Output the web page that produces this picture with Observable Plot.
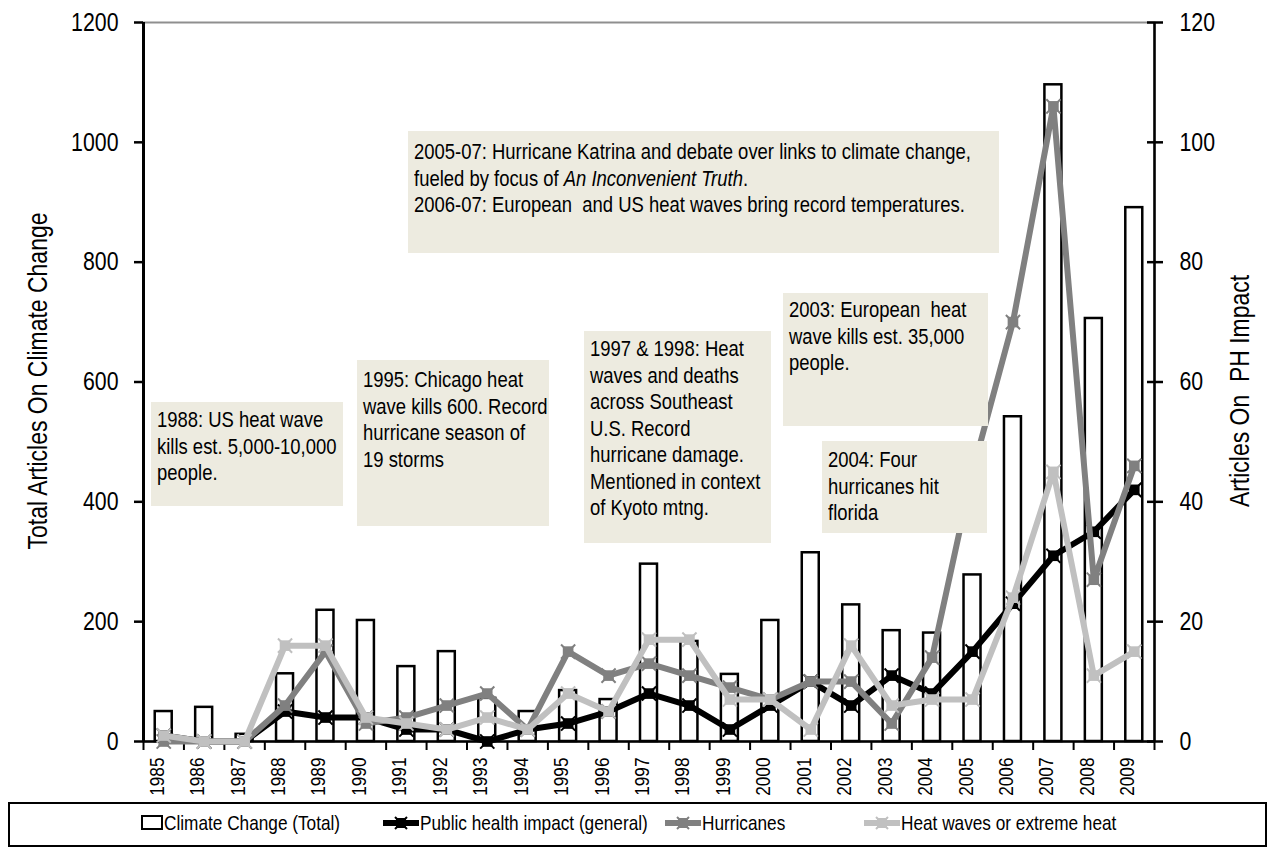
<!DOCTYPE html>
<html>
<head>
<meta charset="utf-8">
<script src="https://cdn.jsdelivr.net/npm/d3@7"></script>
<script src="https://cdn.jsdelivr.net/npm/@observablehq/plot@0.6"></script>
<style>
html, body { margin: 0; padding: 0; background: #fff; }
#wrap { position: relative; width: 1275px; height: 848px; overflow: hidden;
  font-family: "Liberation Sans", Arial, sans-serif; color: #000; }
#wrap svg.chart { position: absolute; left: 0; top: 0; }
.note { position: absolute; background: #edebe0; box-sizing: border-box; padding-left: 6px;
  font-size: 22.5px; line-height: 26.5px; white-space: nowrap; z-index: 2; }
.sq { display: block; transform: scaleX(0.82); transform-origin: 0 0; white-space: pre; }
.title { position: absolute; font-size: 28px; white-space: pre; z-index: 3; }
#legend { position: absolute; left: 8px; top: 802px; width: 1259px; height: 45px;
  border: 2px solid #000; box-sizing: border-box; z-index: 3; background: #fff; }
.litem { position: absolute; font-size: 21px; line-height: 24px; white-space: nowrap; z-index: 4; }
.licon { position: absolute; z-index: 4; }
</style>
</head>
<body>
<div id="wrap"></div>
<script>
// ---------- data ----------
const years = [1985,1986,1987,1988,1989,1990,1991,1992,1993,1994,1995,1996,1997,
               1998,1999,2000,2001,2002,2003,2004,2005,2006,2007,2008,2009];
const climateTotal = [50,57,12,113,219,202,125,150,72,50,85,70,296,
                      167,112,202,315,228,185,181,278,542,1096,706,891];
const publicHealth = [1,0,0,5,4,4,2,2,0,2,3,5,8,6,2,6,10,6,11,8,15,23,31,35,42];
const hurricanes   = [0,0,0,6,15,3,4,6,8,2,15,11,13,11,9,7,10,10,3,14,45,70,106,27,46];
const heatWaves    = [1,0,0,16,16,4,3,2,4,2,8,5,17,17,7,7,2,16,6,7,7,24,45,11,15];
const leftTicks  = [0,200,400,600,800,1000,1200];
const rightTicks = [0,20,40,60,80,100,120];
const seriesNames = ["Climate Change (Total)","Public health impact (general)","Hurricanes","Heat waves or extreme heat"];
const axisTitles = ["Total Articles On Climate Change","Articles On  PH Impact"];
const noteTexts = [
  ["1988: US heat wave","kills est. 5,000-10,000","people."],
  ["1995: Chicago heat","wave kills 600. Record","hurricane season of","19 storms"],
  ["1997 & 1998: Heat","waves and deaths","across Southeast","U.S. Record","hurricane damage.","Mentioned in context","of Kyoto mtng."],
  ["2003: European  heat","wave kills est. 35,000","people."],
  ["2004: Four","hurricanes hit","florida"],
  ["2005-07: Hurricane Katrina and debate over links to climate change,",
   "fueled by focus of <i>An Inconvenient Truth</i>.",
   "2006-07: European  and US heat waves bring record temperatures."]
];

// ---------- layout / style ----------
const SQ = 0.82;
const colors = ["#000000","#000000","#808080","#c0c0c0"];
const noteBoxes = [
  {l:151,t:402,w:192,h:104,p:5},
  {l:357,t:360,w:192,h:166,p:7},
  {l:584,t:331,w:187,h:212,p:5},
  {l:783,t:293,w:205,h:133,p:4},
  {l:822,t:441,w:165,h:92,p:6},
  {l:408,t:131,w:591,h:122,p:8}
];

const ratio = leftTicks[leftTicks.length-1] / rightTicks[rightTicks.length-1];
const rows = years.map((year,i)=>({year, total:climateTotal[i], ph:publicHealth[i], hur:hurricanes[i], heat:heatWaves[i]}));
const bounds = d3.range(years.length+1).map(i => years[0]-0.5+i);
const lineSeries = [["ph",colors[1]],["hur",colors[2]],["heat",colors[3]]];

const lineMarks = [];
for (const [key,color] of lineSeries) {
  lineMarks.push(Plot.line(rows,{x:"year", y:d=>d[key]*ratio, stroke:color, strokeWidth:6, strokeLinejoin:"round"}));
  lineMarks.push(Plot.dot(rows,{x:"year", y:d=>d[key]*ratio, symbol:"square", r:6, fill:color}));
  lineMarks.push(Plot.dot(rows,{x:"year", y:d=>d[key]*ratio, symbol:"times", r:6.5, stroke:color, strokeWidth:2}));
}

const chart = Plot.plot({
  width:1275, height:800,
  marginLeft:143, marginRight:121, marginTop:22, marginBottom:59,
  style:{fontFamily:'"Liberation Sans", Arial, sans-serif', background:"transparent", overflow:"visible"},
  x:{type:"linear", domain:[bounds[0], bounds[bounds.length-1]]},
  y:{domain:[leftTicks[0], leftTicks[leftTicks.length-1]]},
  marks:[
    Plot.frame({stroke:"#8f8f8f", strokeWidth:2}),
    Plot.rectY(rows,{x1:d=>d.year-0.21, x2:d=>d.year+0.21, y:"total", fill:"white", stroke:"black", strokeWidth:2.5}),
    Plot.ruleY([0],{stroke:"black", strokeWidth:2.5}),
    Plot.ruleX([bounds[0]],{stroke:"black", strokeWidth:3}),
    Plot.ruleX([bounds[bounds.length-1]],{stroke:"black", strokeWidth:2.5}),
    Plot.axisX({ticks:bounds, tickSize:9, tickFormat:()=>"", strokeWidth:2, label:null}),
    Plot.text(years,{x:d=>d, text:d=>String(d), frameAnchor:"bottom", dy:16, rotate:-90, textAnchor:"end", fontSize:21}),
    Plot.axisY({ticks:leftTicks, tickSize:9, tickPadding:16, tickFormat:d=>String(d), fontSize:26, strokeWidth:2.5, label:null}),
    Plot.axisY({anchor:"right", ticks:rightTicks.map(v=>v*ratio), tickSize:8, tickPadding:17,
                tickFormat:d=>String(d/ratio), fontSize:26, strokeWidth:2.5, label:null}),
    Plot.axisY({anchor:"right", ticks:rightTicks.map(v=>v*ratio), tickSize:8, dx:-8,
                tickFormat:()=>"", strokeWidth:2.5, label:null}),
    ...lineMarks
  ]
});
chart.classList.add("chart");
chart.querySelectorAll("text").forEach(el=>{
  const t = el.getAttribute("transform");
  el.setAttribute("transform", (t ? t+" " : "") + `scale(${SQ},1)`);
});
const wrap = document.getElementById("wrap");
wrap.appendChild(chart);

// annotation boxes
noteTexts.forEach((lines,i)=>{
  const b = noteBoxes[i];
  const div = document.createElement("div");
  div.className = "note";
  Object.assign(div.style,{left:b.l+"px", top:b.t+"px", width:b.w+"px", height:b.h+"px", paddingTop:b.p+"px"});
  div.innerHTML = lines.map(s=>`<span class="sq">${s}</span>`).join("");
  wrap.appendChild(div);
});

// axis titles
const t1 = document.createElement("div");
t1.className = "title"; t1.textContent = axisTitles[0];
Object.assign(t1.style,{left:"38px", top:"381px", transform:`translate(-50%,-50%) rotate(-90deg) scale(${SQ},1)`});
wrap.appendChild(t1);
const t2 = document.createElement("div");
t2.className = "title"; t2.textContent = axisTitles[1];
Object.assign(t2.style,{left:"1240px", top:"391px", transform:`translate(-50%,-50%) rotate(-90deg) scale(${SQ},1)`});
wrap.appendChild(t2);

// legend
const lg = document.createElement("div"); lg.id = "legend"; wrap.appendChild(lg);
const legendX = [141, 383, 665, 864];
seriesNames.forEach((name,i)=>{
  const x0 = legendX[i];
  const iconW = i===0 ? 22 : 36;
  const ns = "http://www.w3.org/2000/svg";
  const svg = document.createElementNS(ns,"svg");
  svg.setAttribute("width", iconW); svg.setAttribute("height", 20);
  svg.setAttribute("class","licon");
  svg.style.left = x0+"px"; svg.style.top = "813px";
  if (i===0) {
    svg.innerHTML = `<rect x="1" y="3" width="20" height="13" fill="white" stroke="black" stroke-width="2"/>`;
  } else {
    const c = colors[i];
    svg.innerHTML = `<line x1="0" y1="10" x2="${iconW}" y2="10" stroke="${c}" stroke-width="6"/>
      <rect x="${iconW/2-5}" y="5" width="10" height="10" fill="${c}"/>
      <path d="M${iconW/2-6},4 L${iconW/2+6},16 M${iconW/2+6},4 L${iconW/2-6},16" stroke="${c}" stroke-width="2"/>`;
  }
  wrap.appendChild(svg);
  const sp = document.createElement("div");
  sp.className = "litem";
  sp.style.left = (x0+iconW+1)+"px"; sp.style.top = "811px";
  sp.innerHTML = `<span class="sq">${name}</span>`;
  wrap.appendChild(sp);
});
</script>
</body>
</html>
